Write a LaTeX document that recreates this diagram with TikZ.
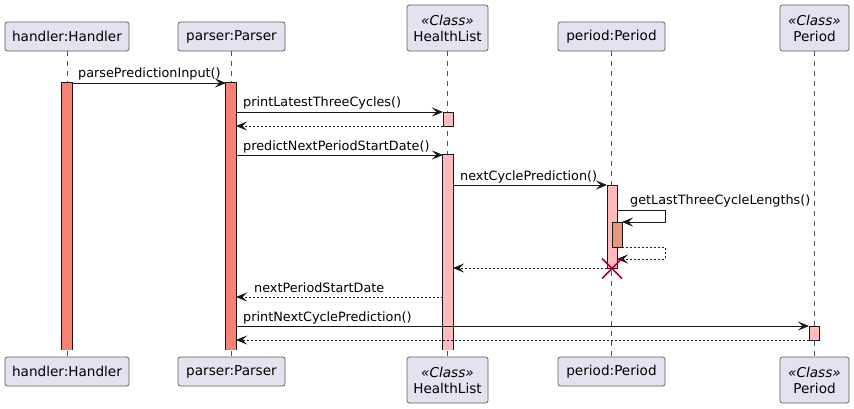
\documentclass[tikz,border=0pt]{standalone}
\usepackage{fontspec}
\setmainfont{DejaVu Sans}
\usetikzlibrary{arrows.meta}
\definecolor{boxfill}{HTML}{E2E2F0}
\definecolor{boxline}{HTML}{181818}
\definecolor{actA}{HTML}{FA8072}
\definecolor{actB}{HTML}{FFBBBB}
\definecolor{actC}{HTML}{E59878}
\definecolor{destr}{HTML}{A80036}
\newcommand\pfont{\fontsize{13.6}{16}\selectfont}
\newcommand\mfont{\fontsize{12.8}{15}\selectfont}
\tikzset{
  part/.style={draw=boxline!70, line width=0.7pt, fill=boxfill, rounded corners=2.5pt,
    inner sep=0pt, font=\pfont, align=center, minimum height=29pt},
  cpart/.style={part, minimum height=46pt},
  life/.style={draw=boxline!75, line width=0.6pt, dash pattern=on 5pt off 5pt},
  barA/.style={draw=boxline, line width=0.9pt, fill=actA, inner sep=0pt, minimum width=10pt},
  barB/.style={barA, fill=actB},
  barC/.style={barA, fill=actC},
  openA/.style={fill=actA, inner sep=0pt, minimum width=10pt},
  openB/.style={openA, fill=actB},
  edge/.style={draw=boxline, line width=0.9pt},
  msg/.style={draw=boxline, line width=0.9pt, -{Stealth[length=11pt,width=9pt,inset=4.5pt]}},
  ret/.style={msg, dash pattern=on 2pt off 2pt},
  lbl/.style={anchor=base west, inner sep=0pt, font=\mfont, text=black},
}
\begin{document}
\begin{tikzpicture}[x=1pt,y=-1pt]
\useasboundingbox[fill=white] (0,0) rectangle (854,409);
% top participants
\node[part, minimum width=124pt] (hT) at (67,36.5) {handler:Handler};
\node[part, minimum width=107pt] (pT) at (231.5,36.5) {parser:Parser};
\node[cpart, minimum width=81pt] (lT) at (447.5,28) {\textit{«Class»}\\HealthList};
\node[part, minimum width=107pt] (oT) at (611.5,36.5) {period:Period};
\node[cpart, minimum width=69pt] (cT) at (814.5,28) {\textit{«Class»}\\Period};
% bottom participants
\node[part, minimum width=124pt] (hB) at (67,371.5) {handler:Handler};
\node[part, minimum width=107pt] (pB) at (231.5,371.5) {parser:Parser};
\node[cpart, minimum width=81pt] (lB) at (447.5,380) {\textit{«Class»}\\HealthList};
\node[part, minimum width=107pt] (oB) at (611.5,371.5) {period:Period};
\node[cpart, minimum width=69pt] (cB) at (814.5,380) {\textit{«Class»}\\Period};
% lifelines
\draw[life] (hT.south) -- (hB.north);
\draw[life] (pT.south) -- (pB.north);
\draw[life] (lT.south) -- (lB.north);
\draw[life] (oT.south) -- (oB.north);
\draw[life] (cT.south) -- (cB.north);
% activation bars (open at the bottom where they run to the end)
\node[openA, minimum height=267pt] (hA) at (67,216.5) {};
\draw[edge] (hA.south west) |- (hA.north east) -- (hA.south east);
\node[openA, minimum height=267pt] (pA) at (231,216.5) {};
\draw[edge] (pA.south west) |- (pA.north east) -- (pA.south east);
\node[barB, minimum height=14pt] (lA1) at (448,119) {};
\node[openB, minimum height=195pt] (lA2) at (448,252.5) {};
\draw[edge] (lA2.south west) |- (lA2.north east) -- (lA2.south east);
\node[barB, minimum height=83pt] (oA) at (612,226.5) {};
\node[barC, minimum height=25pt] (oA2) at (617,234.5) {};
\node[barB, minimum height=14pt] (cA) at (814,333) {};
% message end points
\coordinate (m1a) at (72,83);   \coordinate (m1b) at (226,83);
\coordinate (m2a) at (236,112); \coordinate (m2b) at (443,112);
\coordinate (m3a) at (443,126); \coordinate (m3b) at (236,126);
\coordinate (m4a) at (236,155); \coordinate (m4b) at (443,155);
\coordinate (m5a) at (453,185); \coordinate (m5b) at (607,185);
\coordinate (m6a) at (617,210); \coordinate (m6b) at (665,210);
\coordinate (m6c) at (665,222); \coordinate (m6d) at (622,222);
\coordinate (m7a) at (622,247); \coordinate (m7b) at (665,247);
\coordinate (m7c) at (665,259); \coordinate (m7d) at (617,259);
\coordinate (m8a) at (607,268); \coordinate (m8b) at (453,268);
\coordinate (m9a) at (443,297); \coordinate (m9b) at (236,297);
\coordinate (m10a) at (236,326); \coordinate (m10b) at (809,326);
\coordinate (m11a) at (809,340); \coordinate (m11b) at (236,340);
\coordinate (xx) at (612,268.5);
% messages
\draw[msg] (m1a) -- (m1b);
\node[lbl] (l1) at (78,78) {parsePredictionInput()};
\draw[msg] (m2a) -- (m2b);
\node[lbl] (l2) at (243,107) {printLatestThreeCycles()};
\draw[ret] (m3a) -- (m3b);
\draw[msg] (m4a) -- (m4b);
\node[lbl] (l4) at (243,150) {predictNextPeriodStartDate()};
\draw[msg] (m5a) -- (m5b);
\node[lbl] (l5) at (460,180) {nextCyclePrediction()};
\draw[msg] (m6a) -- (m6b) -- (m6c) -- (m6d);
\node[lbl] (l6) at (630,204) {getLastThreeCycleLengths()};
\draw[ret] (m7a) -- (m7b) -- (m7c) -- (m7d);
\draw[ret] (m8a) -- (m8b);
\draw[ret] (m9a) -- (m9b);
\node[lbl] (l9) at (254,292) {nextPeriodStartDate};
\draw[msg] (m10a) -- (m10b);
\node[lbl] (l10) at (243,321) {printNextCyclePrediction()};
\draw[ret] (m11a) -- (m11b);
% destroy
\draw[destr, line width=1.6pt] ([shift={(-10,-10)}]xx) -- ([shift={(10,10)}]xx)
  ([shift={(-10,10)}]xx) -- ([shift={(10,-10)}]xx);
\end{tikzpicture}
\end{document}
